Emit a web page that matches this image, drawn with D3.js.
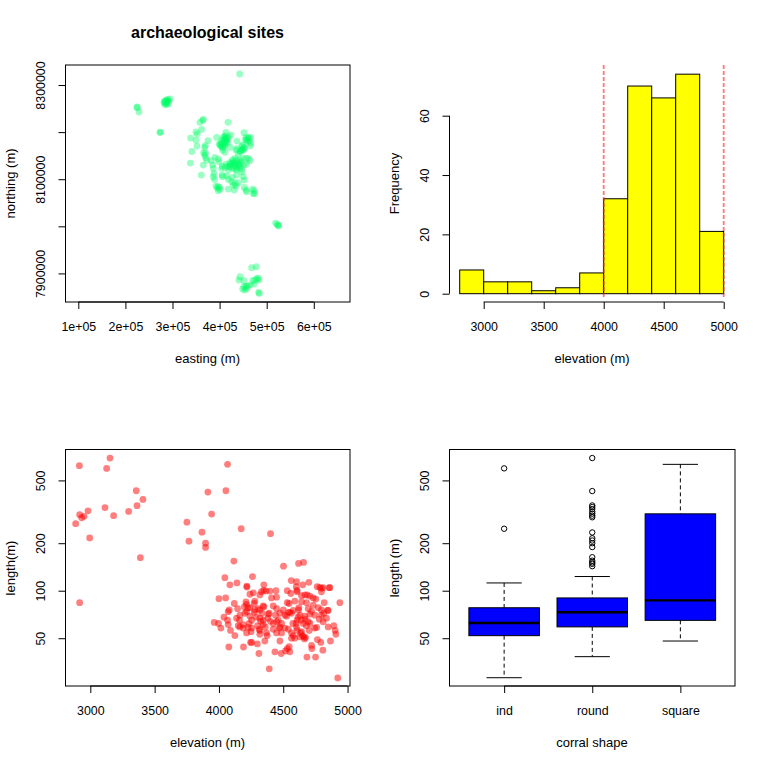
<!DOCTYPE html>
<html>
<head>
<meta charset="utf-8">
<script src="https://cdn.jsdelivr.net/npm/d3@7"></script>
<style>
  html, body { margin: 0; padding: 0; background: #fff; }
  text { font-family: "Liberation Sans", Arial, sans-serif; font-size: 13px; fill: #000; }
</style>
</head>
<body>
<svg id="chart" width="768" height="768"></svg>
<script>
// site locations, metres
const siteEasting = [442500,224600,225300,228800,286100,289000,284700,287500,282600,286100,287500,291000,294600,281900,289700,284000,292000,273400,274100,
  365400,364000,358300,361800,349800,352600,338500,349800,375300,351900,369600,368200,341300,366100,370300,368200,370300,337800,372500,365400,361100,382400,390200,397200,398700,386600,385200,388000,386600,389400,
  417800,413500,424100,451700,393700,407800,411400,414900,404300,409300,412800,399400,403600,407800,411400,417000,418500,406400,411400,422000,436900,456000,460900,465900,457400,463000,465900,464500,448900,451700,446800,436200,443200,450300,439700,434700,
  402000,406000,410000,414000,408000,412000,405000,401000,411000,416000,447000,453000,449000,444000,455000,461000,459000,
  432600,436200,429100,423400,418500,413500,405700,411400,404300,425500,432600,439700,443200,448900,436200,443200,446800,451700,456000,464500,457400,460900,446800,418500,
  428000,433000,438000,442000,425000,420000,430000,435000,440000,445000,422000,427000,
  405700,414900,427000,436200,450300,452400,418500,425500,405700,429100,432600,434700,431200,418500,439700,397200,395100,399400,400800,397200,392300,452400,456000,457400,470100,473000,471500,474400,
  519000,522500,525300,524600,
  468000,477900,443200,441100,451700,482200,478600,475100,470100,483600,473700,464500,459500,456000,451700,448900,453900,457400,482900,484300];
const siteNorthing = [8323400,8253300,8251900,8242700,8268100,8266700,8264600,8263200,8265300,8261100,8258900,8265300,8270300,8262500,8269600,8258000,8260000,8199500,8199500,
  8227100,8225000,8220700,8205800,8200200,8195900,8187400,8183200,8181800,8170400,8171100,8167600,8159100,8156300,8154900,8151300,8145700,8134300,8140700,8130000,8108800,8139300,8146400,8142800,8137200,8123000,8130000,8112400,8105300,8099600,
  8220700,8199500,8193800,8198800,8188800,8188800,8191700,8186700,8183200,8179600,8183200,8174700,8170400,8167600,8172600,8177500,8188800,8161900,8157000,8167600,8181000,8188100,8188800,8188800,8183200,8181000,8176100,8170400,8172600,8167600,8161900,8164800,8158400,8161900,8153400,8161900,
  8175000,8178000,8185000,8180000,8172000,8190000,8168000,8172000,8176000,8184000,8170000,8166000,8163000,8160000,8184000,8186000,8180000,
  8144200,8140700,8137200,8130000,8128000,8132200,8128000,8125100,8123000,8125100,8128000,8130000,8140700,8144200,8123000,8125100,8120900,8130000,8144200,8139300,8132200,8144200,8115900,8119500,
  8134000,8133000,8135000,8132000,8133000,8126000,8122000,8120000,8128000,8136000,8135000,8141000,
  8108800,8106700,8103900,8108800,8105300,8098200,8099600,8094700,8105300,8087600,8091100,8085500,8077000,8079100,8092600,8084100,8081200,8082600,8078400,8075600,8085500,8082600,8077000,8073400,8079100,8075600,8069900,8069200,
  8006900,8003300,8000500,8002600,
  7912000,7914100,7892900,7885800,7884400,7890100,7888700,7885800,7884400,7885800,7877300,7875200,7873100,7873100,7871700,7866700,7864600,7868100,7859600,7857500];

// histogram of elevation
const binStarts = [2800,3000,3200,3400,3600,3800,4000,4200,4400,4600,4800];
const binCounts = [8,4,4,1,2,7,32,70,66,74,21];
const binWidth = 200;
const cutoffs = [4000,5000];

// corrals: elevation against length
const elevation = [2915,3153,3127,3357,3409,2982,3114,3363,3298,3181,2917,2951,2933,2886,2995,3389,2917,
  4067,4054,3914,3943,3751,3868,3767,3896,3896,4173,4401,4116,4502,4619,4658,
  4046,4261,4140,4085,4217,4217,4562,4603,4601,4652,4699,4349,4764,4784,4797,4810,4857,4862,4531,4608,4606,4559,4443,4318,4331,4349,4365,4396,4267,4241,4409,4448,4668,4686,4707,4733,4753,4642,4797,
  4000,4052,4119,4210,4215,4279,4274,4197,4241,4145,4080,4072,4305,4344,4422,4448,4391,4531,4546,4590,4642,4681,4733,4818,4940,4772,4797,4849,4844,4694,4621,4619,4577,4551,4513,4474,4500,4215,4279,4318,
  4163,4202,4039,4067,4137,4241,4254,4318,4344,4383,4461,4526,4564,4629,4668,4707,4746,4797,4836,4810,4694,4642,4608,3963,3997,4072,4150,4163,4189,4228,4254,4318,4344,4422,4448,4487,4513,4474,4655,4707,4759,4849,4893,4904,4909,
  4015,4090,4124,4215,4313,4318,4370,4375,4422,4448,4487,4564,4603,4608,4642,4702,4577,4564,4590,4629,4673,4665,4766,4792,4867,
  4077,4191,4254,4246,4298,4357,4474,4546,4531,4435,4484,4518,4551,4311,4720,4722,4808,4684,4751,4391,4924,
  4160,4225,4235,4290,4300,4335,4360,4380,4400,4440,4470,4540,4575,4615,4635,4650,4670,4680,4720,4745,4780,4815,4190,4250,4275,4325,4350,4540,4600,4660];
const corralLength = [620,693,596,430,379,321,336,346,318,299,303,296,290,266,216,162,84,
  632,430,422,306,272,235,206,200,188,247,230,154,143,149,151,
  121,123,112,109,107,105.5,116,114,106,109,113,109,106,105,103.5,104.5,104.5,104.5,100,98.5,100.5,96,100,94,98.5,100.5,99.5,99.5,97,95,90,91,94,94,92.5,90,88.5,93,98.5,
  89,90,83,85,82,86,83,79,78,77,75.5,73.6,77,80,80,77,72,84,83,86,85,84,81,84,84,78,75.5,75,75,77,78,75.5,75,73,70,72,75.5,73.6,75.5,75.5,
  70,72,68,65,67,69,65,67,65,71,65,69,72,70,69,71,70,70,67,63.6,63.6,65,65,63,62,61,60,59,58,58.5,58,56,61,62,63.6,62,58,59,62,62,58.5,59,60,56,53,
  58,56,52,54,57,53,54,52,57,54,54,54,58.5,56,55,56,52,50,50,51,50.5,49.5,49,47,48,
  44,44,47,47,46,48,48,44.2,43,41,40,41.5,41,40,45,43,42,38,38,32,28,
  65,78,62,68,60,72,59,67,64,70,58,73,62,68,54,52,66,60,74,58,66,72,61,55,73,64,79,57,62,51];

// boxplot of length by corral shape
const shapes = ["ind","round","square"];
const boxLower = [28.1,38.2,48];
const boxQ1 = [51.9,59,64.9];
const boxMedian = [62.4,73,86.8];
const boxQ3 = [78,90,307];
const boxUpper = [112,123,632];
const indOutliers = [596,247];
const roundOutliers = [693,428,347,339,329,317,308,299,292,234,215,208,200,189,163,155,151,148,143];
const squareOutliers = [];

const eastingTicks = [100000,200000,300000,400000,500000,600000];
const eastingLabels = ["1e+05","2e+05","3e+05","4e+05","5e+05","6e+05"];
const northingTicks = [7900000,8000000,8100000,8200000,8300000];
const northingLabels = ["7900000","","8100000","","8300000"];
const histXTicks = [3000,3500,4000,4500,5000];
const histYTicks = [0,20,40,60];
const elevationTicks = [3000,3500,4000,4500,5000];
const lengthTicks = [50,100,200,500];

const svg = d3.select("#chart");
const tickLen = 7;
const lineW = 1;
const tickFont = "12.4px";

// R style axis: the line only runs between the outer ticks
function bottomAxis(scale, ticks, y, labels) {
  const g = svg.append("g").attr("transform", `translate(0,${y})`)
    .call(d3.axisBottom(scale).tickValues(ticks).tickSize(tickLen).tickPadding(13)
      .tickFormat((d, i) => labels ? labels[i] : d));
  g.select(".domain").remove();
  g.selectAll("line").attr("stroke", "#000").attr("stroke-width", lineW);
  g.selectAll("text").style("font-family", "Liberation Sans").style("font-size", tickFont);
  g.append("line").attr("x1", scale(ticks[0])).attr("x2", scale(ticks[ticks.length - 1]))
    .attr("stroke", "#000").attr("stroke-width", lineW);
}

function leftAxis(scale, ticks, x, labels) {
  const g = svg.append("g").attr("transform", `translate(${x},0)`)
    .call(d3.axisLeft(scale).tickValues(ticks).tickSize(tickLen)
      .tickFormat((d, i) => labels ? labels[i] : d));
  g.select(".domain").remove();
  g.selectAll("line").attr("stroke", "#000").attr("stroke-width", lineW);
  g.selectAll("text")
    .style("font-family", "Liberation Sans").style("font-size", tickFont)
    .attr("text-anchor", "middle").attr("dy", 0).attr("x", 0).attr("y", 0)
    .attr("transform", "translate(-20.5,0) rotate(-90)");
  g.append("line").attr("y1", scale(ticks[0])).attr("y2", scale(ticks[ticks.length - 1]))
    .attr("stroke", "#000").attr("stroke-width", lineW);
}

function box(x0, x1, y0, y1) {
  svg.append("rect").attr("x", x0).attr("y", y0).attr("width", x1 - x0).attr("height", y1 - y0)
    .attr("fill", "none").attr("stroke", "#000").attr("stroke-width", lineW);
}

function xTitle(text, x, y) {
  svg.append("text").attr("x", x).attr("y", y).attr("text-anchor", "middle").text(text);
}

function yTitle(text, x, y) {
  svg.append("text").attr("transform", `translate(${x},${y}) rotate(-90)`).attr("text-anchor", "middle").text(text);
}

// Panel 1: site map
const x1 = d3.scaleLinear().domain([72800,676900]).range([65.5,350]);
const y1 = d3.scaleLinear().domain([7839300,8342500]).range([302,65]);
svg.append("g").selectAll("circle").data(siteEasting).join("circle")
  .attr("cx", d => x1(d))
  .attr("cy", (d, i) => y1(siteNorthing[i]))
  .attr("r", 3.4)
  .attr("fill", "#00ff66").attr("fill-opacity", 0.4);
box(65.5, 350, 65, 302);
bottomAxis(x1, eastingTicks, 302, eastingLabels);
leftAxis(y1, northingTicks, 65.5, northingLabels);
xTitle("easting (m)", 207.5, 363);
yTitle("northing (m)", 15, 183.5);
svg.append("text").attr("x", 207.5).attr("y", 38).attr("text-anchor", "middle")
  .style("font-weight", "bold").style("font-size", "16px").text("archaeological sites");

// Panel 2: elevation histogram
const x2 = d3.scaleLinear().domain([3000,5000]).range([483.7,723.7]);
const y2 = d3.scaleLinear().domain([0,60]).range([293.7,115.7]);
svg.append("g").selectAll("rect").data(binCounts).join("rect")
  .attr("x", (d, i) => x2(binStarts[i]))
  .attr("width", (d, i) => x2(binStarts[i] + binWidth) - x2(binStarts[i]))
  .attr("y", d => y2(d))
  .attr("height", d => y2(0) - y2(d))
  .attr("fill", "#ffff00").attr("stroke", "#000").attr("stroke-width", lineW);
svg.append("g").selectAll("line").data(cutoffs).join("line")
  .attr("x1", d => x2(d)).attr("x2", d => x2(d))
  .attr("y1", 65).attr("y2", 297)
  .attr("stroke", "#ff2020").attr("stroke-opacity", 0.6).attr("stroke-width", 1.8).attr("stroke-dasharray", "4,2");
bottomAxis(x2, histXTicks, 302);
leftAxis(y2, histYTicks, 449.5);
xTitle("elevation (m)", 592, 363);
yTitle("Frequency", 399, 183.5);

// Panel 3: length against elevation
const x3 = d3.scaleLinear().domain([2807,5019]).range([65.5,350]);
const y3 = d3.scaleLog().domain([24.9,785]).range([686,449.5]);
svg.append("g").selectAll("circle").data(elevation).join("circle")
  .attr("cx", d => x3(d))
  .attr("cy", (d, i) => y3(corralLength[i]))
  .attr("r", 3.4)
  .attr("fill", "#ff0000").attr("fill-opacity", 0.5);
box(65.5, 350, 449.5, 686);
bottomAxis(x3, elevationTicks, 686);
leftAxis(y3, lengthTicks, 65.5);
xTitle("elevation (m)", 207.5, 747);
yTitle("length(m)", 15, 568);

// Panel 4: boxplots by shape
const x4 = d3.scaleLinear().domain([0.38,3.62]).range([449.5,735]);
const y4 = d3.scaleLog().domain([24.9,785]).range([686,449.5]);
const boxHalf = 0.4, stapleHalf = 0.2;
const outliers = [indOutliers, roundOutliers, squareOutliers];
shapes.forEach(function(shape, i) {
  const pos = i + 1;
  const g = svg.append("g");
  // whiskers
  g.selectAll("line.w").data([[boxUpper[i], boxQ3[i]], [boxQ1[i], boxLower[i]]]).join("line")
    .attr("x1", x4(pos)).attr("x2", x4(pos))
    .attr("y1", d => y4(d[0])).attr("y2", d => y4(d[1]))
    .attr("stroke", "#000").attr("stroke-width", lineW).attr("stroke-dasharray", "4,3");
  g.selectAll("line.s").data([boxUpper[i], boxLower[i]]).join("line")
    .attr("x1", x4(pos - stapleHalf)).attr("x2", x4(pos + stapleHalf))
    .attr("y1", d => y4(d)).attr("y2", d => y4(d))
    .attr("stroke", "#000").attr("stroke-width", lineW);
  g.append("rect")
    .attr("x", x4(pos - boxHalf)).attr("width", x4(pos + boxHalf) - x4(pos - boxHalf))
    .attr("y", y4(boxQ3[i])).attr("height", y4(boxQ1[i]) - y4(boxQ3[i]))
    .attr("fill", "#0000ff").attr("stroke", "#000").attr("stroke-width", lineW);
  g.append("line")
    .attr("x1", x4(pos - boxHalf)).attr("x2", x4(pos + boxHalf))
    .attr("y1", y4(boxMedian[i])).attr("y2", y4(boxMedian[i]))
    .attr("stroke", "#000").attr("stroke-width", 2.4);
  g.selectAll("circle").data(outliers[i]).join("circle")
    .attr("cx", x4(pos)).attr("cy", d => y4(d)).attr("r", 2.7)
    .attr("fill", "none").attr("stroke", "#000").attr("stroke-width", lineW);
});
box(449.5, 735, 449.5, 686);
bottomAxis(x4, [1,2,3], 686, shapes);
leftAxis(y4, lengthTicks, 449.5);
xTitle("corral shape", 592, 747);
yTitle("length (m)", 399, 568);
</script>
</body>
</html>
